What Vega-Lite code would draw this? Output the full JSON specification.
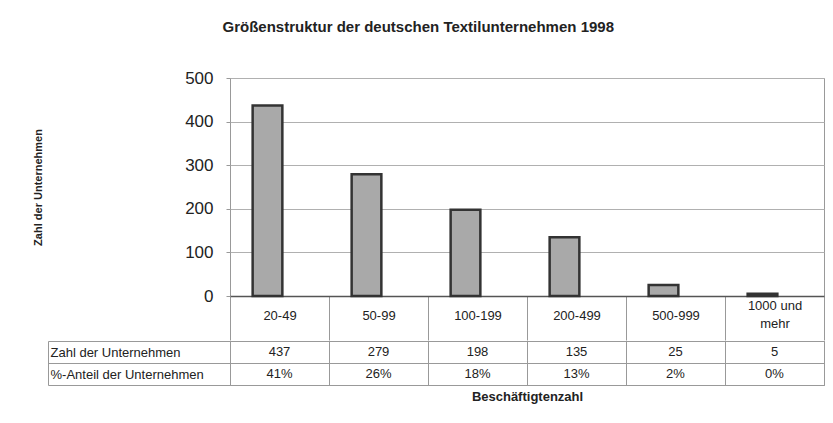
{
  "$schema": "https://vega.github.io/schema/vega-lite/v6.json",
  "padding": {"left": 31, "top": 19, "right": 5, "bottom": 5},
  "background": "white",
  "title": {"text": "Größenstruktur der deutschen Textilunternehmen 1998", "fontSize": 15, "fontWeight": "bold", "color": "#222", "offset": 34, "anchor": "middle", "dx": -10},
  "data": {"values": [
    {"Beschäftigtenzahl": "20-49", "Zahl der Unternehmen": 437, "%-Anteil der Unternehmen": "41%"},
    {"Beschäftigtenzahl": "50-99", "Zahl der Unternehmen": 279, "%-Anteil der Unternehmen": "26%"},
    {"Beschäftigtenzahl": "100-199", "Zahl der Unternehmen": 198, "%-Anteil der Unternehmen": "18%"},
    {"Beschäftigtenzahl": "200-499", "Zahl der Unternehmen": 135, "%-Anteil der Unternehmen": "13%"},
    {"Beschäftigtenzahl": "500-999", "Zahl der Unternehmen": 25, "%-Anteil der Unternehmen": "2%"},
    {"Beschäftigtenzahl": "1000 und mehr", "Zahl der Unternehmen": 5, "%-Anteil der Unternehmen": "0%"}
  ]},
  "spacing": -7,
  "vconcat": [
    {
      "width": 594,
      "height": 218,
      "mark": {"type": "bar", "fill": "#a9a9a9", "stroke": "#333", "strokeWidth": 2.5, "width": {"band": 0.3}, "xOffset": -12},
      "encoding": {
        "x": {
          "field": "Beschäftigtenzahl", "type": "nominal", "sort": null,
          "scale": {"paddingInner": 0, "paddingOuter": 0},
          "axis": {
            "title": null, "labelAngle": 0, "tickBand": "extent", "tickSize": 44, "tickColor": "#999",
            "domainColor": "#555", "domainWidth": 1.5,
            "labelPadding": {"condition": {"test": "datum.value == '1000 und mehr'", "value": -35}, "value": -25},
            "labelBaseline": "middle",
            "labelFontSize": 13, "labelLineHeight": 18,
            "labelExpr": "datum.value == '1000 und mehr' ? ['1000 und', 'mehr'] : datum.label"
          }
        },
        "y": {
          "field": "Zahl der Unternehmen", "type": "quantitative",
          "scale": {"domain": [0, 500]},
          "axis": {
            "title": "Zahl der Unternehmen", "titleFontSize": 11, "titleFontWeight": "bold",
            "titleX": -192, "titleY": 109, "titleAngle": 270, "titleBaseline": "middle", "titleAlign": "center",
            "values": [0, 100, 200, 300, 400, 500], "labelFontSize": 17, "labelPadding": 13,
            "tickSize": 4, "tickColor": "#999", "domain": false,
            "grid": true, "gridColor": "#b0b0b0"
          }
        }
      }
    },
    {
      "width": 594,
      "height": 44,
      "transform": [
        {"fold": ["Zahl der Unternehmen", "%-Anteil der Unternehmen"], "as": ["zeile", "wert"]}
      ],
      "mark": {"type": "text", "fontSize": 13, "color": "#222", "baseline": "middle"},
      "encoding": {
        "x": {
          "field": "Beschäftigtenzahl", "type": "nominal", "sort": null,
          "scale": {"paddingInner": 0, "paddingOuter": 0},
          "axis": {
            "title": "Beschäftigtenzahl", "titleFontSize": 13, "titleFontWeight": "bold", "titlePadding": 5,
            "labels": false, "ticks": false, "domain": false,
            "grid": true, "tickBand": "extent", "gridColor": "#999"
          }
        },
        "y": {
          "field": "zeile", "type": "nominal", "sort": null,
          "scale": {"paddingInner": 0, "paddingOuter": 0},
          "axis": {
            "title": null, "offset": 182, "tickSize": -182, "tickBand": "extent", "tickColor": "#999",
            "domain": true, "domainColor": "#999", "labelAlign": "left", "labelPadding": 180,
            "labelFontSize": 13, "grid": true, "gridColor": "#999"
          }
        },
        "text": {"field": "wert"}
      }
    }
  ],
  "config": {
    "font": "Liberation Sans",
    "view": {"stroke": "#999"},
    "axis": {"labelColor": "#222", "titleColor": "#222"}
  }
}
